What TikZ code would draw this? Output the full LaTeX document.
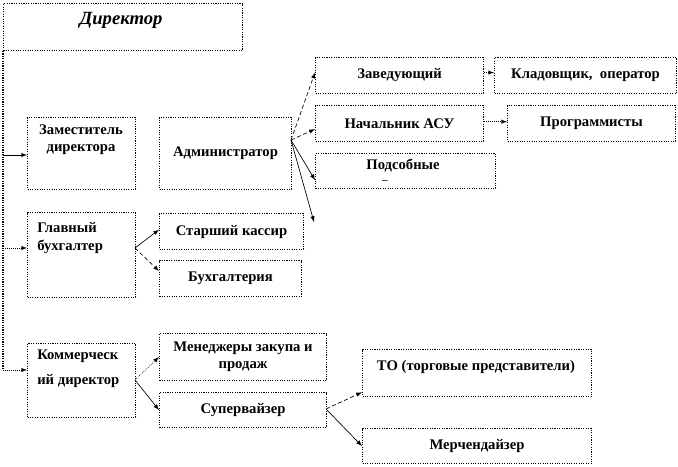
\documentclass[tikz,border=0pt]{standalone}
\usepackage{fontspec}
\setmainfont{Liberation Serif}
\usetikzlibrary{calc,positioning}

\begin{document}
\begin{tikzpicture}[x=0.75pt,y=-0.75pt,
	box/.style={draw,densely dotted,line width=0.8pt,inner sep=0pt,anchor=north west,align=center,font=\fontsize{11}{13}\selectfont\bfseries},
	txt/.style={align=center,inner sep=0pt,font=\fontsize{11}{13}\selectfont\bfseries},
	arr/.style={-latex,line width=0.5pt},
	dotarr/.style={arr,densely dotted},
	dasharr/.style={arr,densely dashed}]
	\useasboundingbox (0,0) rectangle (678,467);

	% Draw boxes
	\node[box,minimum width=179.25pt,minimum height=35.25pt] (dir) at (3,3) {};
	\node[txt,font=\fontsize{14}{16}\selectfont\bfseries\itshape] (dirtxt) at (121,20) {Директор};
	\node[box,minimum width=81pt,minimum height=54pt] (zam) at (27,117) {};
	\node[txt] (zamtxt) at (81,140) {Заместитель\\директора};
	\node[box,minimum width=99pt,minimum height=54pt] (adm) at (159,117) {Администратор};
	\node[box,minimum width=81pt,minimum height=63.75pt] (glav) at (27,212) {};
	\node[txt,align=left,anchor=west] (glavtxt) at (37,238) {Главный\\бухгалтер};
	\node[box,minimum width=108pt,minimum height=27pt] (kas) at (159,213) {Старший кассир};
	\node[box,minimum width=106.5pt,minimum height=27pt] (buh) at (159,260) {Бухгалтерия};
	\node[box,minimum width=81pt,minimum height=55.5pt] (kom) at (27,343) {};
	\node[txt,align=left,anchor=west] (komtxt) at (37,369) {Коммерческ\\[6pt]ий директор};
	\node[box,minimum width=125.25pt,minimum height=35.25pt] (men) at (159,333) {Менеджеры закупа и\\продаж};
	\node[box,minimum width=125.25pt,minimum height=26.25pt] (sup) at (159,392) {Супервайзер};
	\node[box,minimum width=126pt,minimum height=27pt] (zav) at (315,57) {Заведующий};
	\node[box,minimum width=136.5pt,minimum height=27pt] (klad) at (494,57) {Кладовщик,\ \ оператор};
	\node[box,minimum width=126pt,minimum height=27pt] (asu) at (315,105) {Начальник АСУ};
	\node[box,minimum width=126pt,minimum height=27pt] (prog) at (507,105) {Программисты};
	\node[box,minimum width=135pt,minimum height=26.25pt] (pods) at (315,153) {};
	\node[txt] (podstxt) at (403,166) {Подсобные};
	\node[txt,font=\fontsize{8}{8}\selectfont\bfseries] (podsdash) at (385,182) {–};
	\node[box,minimum width=171.75pt,minimum height=35.25pt] (to) at (362,349) {};
	\node[txt] (totxt) at (476,367) {ТО (торговые представители)};
	\node[box,minimum width=171.75pt,minimum height=26.25pt] (mer) at (362,428) {Мерчендайзер};

	% Draw connectors from director
	\coordinate (t1) at (3,155);
	\coordinate (t2) at (3,248);
	\coordinate (t3) at (3,370);
	\draw[densely dotted,line width=0.8pt] (dir.south west) -- (t3);
	\draw[arr] (t1) -- (zam.west |- t1);
	\draw[dotarr] (t2) -- (glav.west |- t2);
	\draw[dotarr] (t3) -- (kom.west |- t3);

	% Draw connectors from administrator
	\coordinate (fan) at (291,140);
	\coordinate (free) at (314,222);
	\draw[dasharr] (fan) -- ($(zav.north west)!0.42!(zav.south west)$);
	\draw[dasharr] (fan) -- ($(asu.north west)!0.65!(asu.south west)$);
	\draw[arr] (fan) -- ($(pods.north west)!0.75!(pods.south west)$);
	\draw[arr] (fan) -- (free);
	\draw[dotarr] ($(zav.north east)!0.42!(zav.south east)$) -- ($(klad.north west)!0.42!(klad.south west)$);
	\draw[dotarr] ($(asu.north east)!0.45!(asu.south east)$) -- ($(prog.north west)!0.45!(prog.south west)$);

	% Draw connectors from accountant and commercial director
	\coordinate (glavout) at (135,248);
	\draw[arr] (glavout) -- ($(kas.north west)!0.45!(kas.south west)$);
	\draw[dasharr] (glavout) -- ($(buh.north west)!0.3!(buh.south west)$);
	\coordinate (komout) at (135,380);
	\draw[dotarr] (komout) -- ($(men.north west)!0.5!(men.south west)$);
	\draw[arr] (komout) -- ($(sup.north west)!0.5!(sup.south west)$);
	\coordinate (supout) at (326,409);
	\draw[dasharr] (supout) -- ($(to.north west)!0.9!(to.south west)$);
	\draw[arr] (supout) -- ($(mer.north west)!0.5!(mer.south west)$);
\end{tikzpicture}
\end{document}
